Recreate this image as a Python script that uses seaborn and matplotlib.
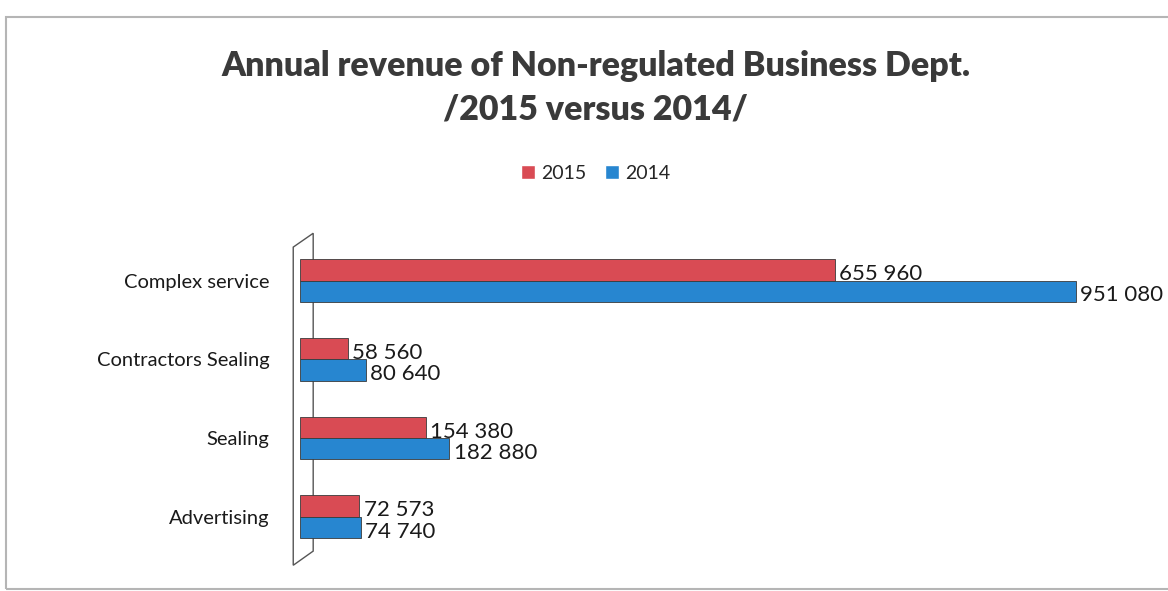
import matplotlib
matplotlib.use("Agg")
import matplotlib.pyplot as plt
from matplotlib.patches import Rectangle, Patch, Polygon
import seaborn as sns
import pandas as pd

# ── Data ───────────────────────────────────────────────────────────
categories = ["Complex service", "Contractors Sealing", "Sealing", "Advertising"]
rev_2015 = [655960, 58560, 154380, 72573]
rev_2014 = [951080, 80640, 182880, 74740]
years = ["2015", "2014"]

RED = "#d94b54"
BLUE = "#2786d0"

df = pd.DataFrame({
    "Category": categories * 2,
    "Year": ["2015"] * len(categories) + ["2014"] * len(categories),
    "Revenue": rev_2015 + rev_2014,
})

sns.set_theme(style="white")
plt.rcParams["font.family"] = ["Lato", "DejaVu Sans"]

fig = plt.figure(figsize=(11.68, 5.91), dpi=100)
ax = fig.add_axes([0.257, 0.059, 0.743, 0.533])

# thin 3D "wall" behind the bars
wall = Polygon([(-0.008, 0.981), (0.015, 1.025), (0.015, 0.016), (-0.008, -0.029)],
               closed=True, transform=ax.transAxes, facecolor="white",
               edgecolor="#555555", linewidth=1.0, clip_on=False, zorder=0)
ax.add_patch(wall)

sns.barplot(data=df, y="Category", x="Revenue", hue="Year",
            hue_order=years, order=categories, orient="h",
            palette={"2015": RED, "2014": BLUE}, width=0.54, saturation=1,
            edgecolor="#3a3a3a", linewidth=0.6, legend=False, ax=ax, zorder=2)

for cont in ax.containers:
    labels = ax.bar_label(cont, labels=[f"{v:,.0f}".replace(",", " ") for v in cont.datavalues],
                          padding=3, fontsize=16, color="#1a1a1a", clip_on=False)
    for t in labels:
        t.xyann = (3, -3)

ax.set_xlim(0, 1064000)
ax.set_xticks([])
ax.set_xlabel("")
ax.set_ylabel("")
ax.tick_params(axis="y", length=0, pad=22, labelsize=14.5, labelcolor="#1a1a1a")
for s in ["top", "right", "bottom", "left"]:
    ax.spines[s].set_visible(False)

# ── Title & legend ─────────────────────────────────────────────────
fig.text(0.51, 0.889, "Annual revenue of Non-regulated Business Dept.",
         ha="center", va="center", fontsize=24.5, fontweight="heavy", color="#3a3a3a")
fig.text(0.51, 0.814, "/2015 versus 2014/",
         ha="center", va="center", fontsize=24.5, fontweight="heavy", color="#3a3a3a")

handles = [Patch(facecolor=RED, label="2015"), Patch(facecolor=BLUE, label="2014")]
fig.legend(handles=handles, loc="center", bbox_to_anchor=(0.51, 0.707), ncol=2,
           frameon=False, fontsize=14, handlelength=0.7, handleheight=0.8,
           handletextpad=0.3, columnspacing=1.0)

# chart border
fig.patches.append(Rectangle((6 / 1168, 2 / 591), 1.2, 572 / 591, transform=fig.transFigure,
                             fill=False, edgecolor="#b5b5b5", linewidth=1.5))

fig.savefig("out.png", dpi=100)
